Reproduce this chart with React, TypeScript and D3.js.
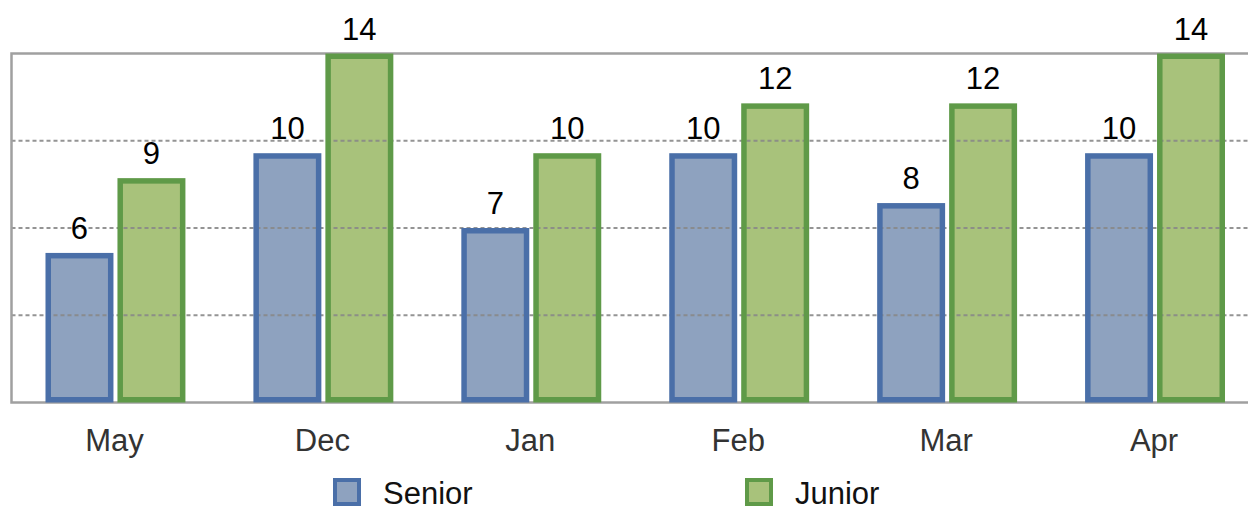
import React from 'react';
import * as d3 from 'd3';

const months = ['May', 'Dec', 'Jan', 'Feb', 'Mar', 'Apr'];
const seriesNames = ['Senior', 'Junior'];
const seniorValues = [6, 10, 7, 10, 8, 10];
const juniorValues = [9, 14, 10, 12, 12, 14];
const gridTicks = [3.5, 7, 10.5];

const strokeColors: Record<string, string> = { Senior: '#4a6fa8', Junior: '#5f9a48' };
const fillColors: Record<string, string> = { Senior: '#8ea2bf', Junior: '#a8c27b' };

const W = 1248;
const H = 506;
const margin = { top: 53.5, left: 11.5, bottom: 103.5 };
const plotRight = 1259;
const sw = 5.5;

export default function App() {
  const rows = months.map((m, i) => ({ month: m, Senior: seniorValues[i], Junior: juniorValues[i] }));

  const x0 = d3.scaleBand<string>()
    .domain(months)
    .range([margin.left, plotRight])
    .paddingInner(0.327)
    .paddingOuter(0.1635);

  const x1 = d3.scaleBand<string>()
    .domain(seriesNames)
    .range([0, x0.bandwidth()])
    .paddingInner(0.0556);

  const y = d3.scaleLinear().domain([0, 14]).range([H - margin.bottom, margin.top]);

  const font = 'Liberation Sans, Arial, sans-serif';

  return (
    <svg width={W} height={H} style={{ position: 'absolute', left: 0, top: 0, overflow: 'hidden' }}>
      <rect x={0} y={0} width={W} height={H} fill="#fff" />

      {/* bar fills */}
      {rows.map(r => seriesNames.map(s => {
        const v = (r as any)[s] as number;
        const bx = (x0(r.month) ?? 0) + (x1(s) ?? 0);
        return (
          <rect key={`f-${r.month}-${s}`} x={bx + sw / 2} y={y(v) + sw / 2}
            width={x1.bandwidth() - sw} height={y(0) - y(v) - sw}
            fill={fillColors[s]} />
        );
      }))}

      {/* dotted grid */}
      {gridTicks.map(t => (
        <line key={t} x1={margin.left} x2={plotRight} y1={y(t)} y2={y(t)}
          stroke="#888" strokeOpacity={0.9} strokeWidth={2} strokeDasharray="4 3" />
      ))}

      {/* frame */}
      <rect x={margin.left} y={margin.top} width={plotRight - margin.left}
        height={y(0) - margin.top} fill="none" stroke="#a0a0a0" strokeWidth={2.5} />

      {/* bar outlines */}
      {rows.map(r => seriesNames.map(s => {
        const v = (r as any)[s] as number;
        const bx = (x0(r.month) ?? 0) + (x1(s) ?? 0);
        return (
          <rect key={`s-${r.month}-${s}`} x={bx + sw / 2} y={y(v) + sw / 2}
            width={x1.bandwidth() - sw} height={y(0) - y(v) - sw}
            fill="none" stroke={strokeColors[s]} strokeWidth={sw} />
        );
      }))}

      {/* value labels */}
      {rows.map(r => seriesNames.map(s => {
        const v = (r as any)[s] as number;
        const cx = (x0(r.month) ?? 0) + (x1(s) ?? 0) + x1.bandwidth() / 2;
        return (
          <text key={`l-${r.month}-${s}`} x={cx} y={y(v) - 14} textAnchor="middle"
            fontFamily={font} fontSize={31} fill="#000">{v}</text>
        );
      }))}

      {/* x axis labels */}
      {months.map(m => (
        <text key={m} x={(x0(m) ?? 0) + x0.bandwidth() / 2 - 1} y={451} textAnchor="middle"
          fontFamily={font} fontSize={31} fill="#333">{m}</text>
      ))}

      {/* legend */}
      {seriesNames.map((s, i) => (
        <g key={s} transform={`translate(${333 + i * 412},478)`}>
          <rect x={2} y={2} width={24} height={24} fill={fillColors[s]}
            stroke={strokeColors[s]} strokeWidth={4} />
          <text x={50} y={26} fontFamily={font} fontSize={31} fill="#111">{s}</text>
        </g>
      ))}
    </svg>
  );
}
